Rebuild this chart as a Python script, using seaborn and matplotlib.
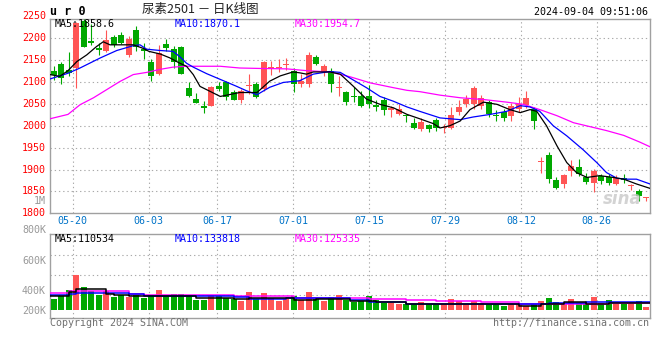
import numpy as np
import pandas as pd
import matplotlib
matplotlib.use("Agg")
import matplotlib.pyplot as plt
import seaborn as sns
from matplotlib.transforms import blended_transform_factory as blend

# ---------------- data ----------------
holidays = ["2024-06-10"]
trade_dates = [d for d in pd.bdate_range("2024-05-15", "2024-09-04")
               if d.strftime("%Y-%m-%d") not in holidays]
tick_labels = ["05-20", "06-03", "06-17", "07-01", "07-15", "07-29", "08-12", "08-26"]

open_p = [2125, 2142, 2127, 2133, 2240, 2194, 2177, 2170, 2204, 2207,
          2162, 2219, 2175, 2146, 2118, 2188, 2175, 2179, 2087, 2061,
          2046, 2046, 2091, 2099, 2078, 2060, 2090, 2095, 2084, 2130,
          2131, 2140, 2126, 2095, 2096, 2158, 2126, 2126, 2087, 2078,
          2067, 2069, 2067, 2048, 2058, 2035, 2027, 2024, 2006, 1992,
          2002, 2014, 1995, 1995, 2032, 2050, 2050, 2045, 2055, 2024,
          2031, 2022, 2039, 2048, 2039, 1918, 1933, 1876, 1866, 1897,
          1906, 1884, 1869, 1885, 1883, 1866, 1881, 1862, 1850, 1835]
high_p = [2137, 2145, 2169, 2238, 2243, 2232, 2189, 2219, 2207, 2215,
          2205, 2228, 2189, 2152, 2185, 2198, 2183, 2183, 2101, 2076,
          2056, 2090, 2099, 2103, 2082, 2084, 2118, 2099, 2147, 2148,
          2152, 2154, 2131, 2118, 2169, 2161, 2141, 2131, 2114, 2080,
          2088, 2080, 2093, 2058, 2065, 2046, 2050, 2025, 2017, 2017,
          2004, 2017, 2005, 2042, 2058, 2070, 2090, 2070, 2060, 2035,
          2039, 2052, 2065, 2080, 2042, 1929, 1939, 1882, 1890, 1922,
          1925, 1891, 1902, 1890, 1890, 1887, 1889, 1866, 1855, 1838]
low_p = [2105, 2095, 2114, 2086, 2180, 2184, 2162, 2169, 2180, 2186,
         2158, 2170, 2152, 2103, 2116, 2171, 2133, 2118, 2066, 2051,
         2030, 2045, 2080, 2058, 2058, 2052, 2073, 2064, 2080, 2116,
         2123, 2128, 2077, 2088, 2088, 2139, 2114, 2078, 2069, 2048,
         2055, 2042, 2041, 2033, 2025, 2020, 2025, 2008, 1993, 1987,
         1986, 1987, 1983, 1993, 2025, 2042, 2039, 2039, 2020, 2012,
         2010, 2012, 2031, 2040, 1992, 1892, 1870, 1856, 1858, 1886,
         1886, 1867, 1849, 1867, 1864, 1864, 1870, 1854, 1829, 1828]
close_p = [2116, 2110, 2121, 2234, 2181, 2189, 2173, 2196, 2185, 2189,
           2198, 2181, 2170, 2114, 2167, 2177, 2145, 2119, 2068, 2053,
           2040, 2089, 2084, 2065, 2060, 2080, 2091, 2065, 2146, 2134,
           2132, 2141, 2096, 2103, 2161, 2141, 2137, 2096, 2088, 2055,
           2066, 2046, 2050, 2043, 2035, 2041, 2039, 2023, 1995, 2008,
           1993, 1995, 1996, 2025, 2042, 2061, 2086, 2063, 2027, 2023,
           2018, 2045, 2050, 2064, 2012, 1919, 1878, 1858, 1888, 1908,
           1890, 1871, 1896, 1874, 1870, 1881, 1876, 1863, 1840, 1836]
volume_k = [166, 190, 253, 406, 283, 240, 206, 240, 183, 200,
            183, 206, 173, 200, 256, 190, 216, 216, 190, 156,
            156, 200, 190, 173, 166, 143, 233, 166, 223, 173,
            143, 160, 190, 150, 233, 166, 143, 183, 206, 156,
            133, 143, 196, 150, 126, 126, 116, 116, 110, 133,
            116, 116, 116, 160, 140, 116, 140, 126, 116, 110,
            93, 110, 116, 93, 116, 143, 173, 133, 116, 160,
            126, 110, 183, 126, 150, 116, 116, 116, 143, 83]

# moving-average lines (candle-index position, value)
ma5_pos = [-0.5, 0.8, 1.9, 3.1, 4.4, 5.7, 6.6, 7.5, 10.6, 11.9, 12.7, 14.2, 15.5, 16.8,
           17.7, 18.6, 19.5, 20.8, 22.2, 24.8, 27.1, 28.8, 30.2, 31.9, 32.8, 33.7, 34.6,
           36.8, 38.2, 39.9, 41.7, 43.5, 45.3, 47.1, 48.8, 50.6, 51.5, 52.8, 54.2, 55.5,
           57.3, 59.1, 60.8, 62.2, 63.5, 64.4, 65.7, 67.1, 68.4, 69.7, 71.1, 72.8, 74.6,
           76.0, 77.7, 79.5]
ma5_val = [2117, 2113, 2126, 2147, 2162, 2181, 2192, 2185, 2185, 2177, 2170, 2164, 2155, 2143,
           2136, 2117, 2090, 2079, 2067, 2076, 2076, 2102, 2114, 2123, 2121, 2118, 2123,
           2123, 2118, 2091, 2061, 2049, 2041, 2026, 2016, 2005, 1995, 2000, 2011, 2037,
           2054, 2049, 2037, 2030, 2037, 2033, 2000, 1954, 1916, 1893, 1882, 1886, 1882,
           1878, 1867, 1857]
ma10_pos = [-0.5, 1.9, 3.5, 6.2, 8.4, 10.6, 11.5, 12.4, 14.2, 15.9, 16.8, 17.7, 18.6, 20.4,
            22.2, 24.4, 25.7, 27.1, 28.8, 30.6, 32.8, 34.6, 36.8, 38.2, 39.9, 41.7, 43.5,
            45.3, 47.1, 48.8, 51.5, 54.2, 55.9, 58.2, 60.4, 62.2, 63.5, 64.8, 66.6, 68.4,
            70.6, 72.4, 73.7, 75.1, 76.4, 77.7, 79.5]
ma10_val = [2107, 2120, 2132, 2155, 2172, 2183, 2185, 2175, 2172, 2170, 2158, 2143, 2134, 2119,
            2106, 2090, 2080, 2071, 2088, 2099, 2103, 2118, 2124, 2122, 2105, 2087, 2067,
            2056, 2043, 2033, 2018, 2014, 2020, 2026, 2033, 2046, 2043, 2033, 2000, 1977,
            1945, 1916, 1893, 1880, 1878, 1878, 1867]
ma30_pos = [-0.5, 1.9, 3.5, 5.3, 7.1, 8.8, 10.6, 12.4, 14.2, 15.9, 17.7, 22.2, 24.8, 27.5,
            31.1, 33.7, 36.8, 39.5, 42.2, 45.3, 47.1, 48.8, 51.5, 54.2, 57.3, 60.4, 62.6,
            64.8, 67.1, 69.3, 71.5, 73.7, 76.0, 78.1, 79.5]
ma30_val = [2016, 2026, 2048, 2064, 2083, 2101, 2117, 2122, 2129, 2134, 2136, 2136, 2132, 2131,
            2130, 2126, 2123, 2112, 2098, 2087, 2081, 2078, 2070, 2064, 2060, 2054, 2049,
            2037, 2023, 2007, 1998, 1989, 1978, 1963, 1952]

vma5_pos = [-0.5, 2, 3, 7, 8, 10, 19, 24, 26, 32, 35, 39.5, 43, 47, 51, 62, 65, 68, 71, 74, 79.5]
vma5_val = [190, 233, 260, 216, 200, 190, 173, 160, 173, 150, 166, 140, 133, 110, 116, 93,
            110, 133, 110, 125, 125]
vma10_pos = [-0.5, 2, 3, 10, 12, 24, 26, 31, 39.5, 42, 47, 66, 71, 79.5]
vma10_val = [200, 210, 223, 216, 193, 183, 166, 173, 150, 133, 116, 120, 133, 133]
vma30_pos = [-0.5, 2, 10, 12, 24, 32, 39.5, 42, 47, 51, 57, 62, 74, 79.5]
vma30_val = [223, 240, 216, 200, 193, 173, 173, 160, 150, 140, 133, 116, 120, 120]

price_labels = [2250, 2200, 2150, 2100, 2050, 2000, 1950, 1900, 1850, 1800]
vol_labels = ["800K", "600K", "400K", "200K"]
ma_text = ["MA5:1858.6", "MA10:1870.1", "MA30:1954.7"]
vma_text = ["MA5:110534", "MA10:133818", "MA30:125335"]

# ---------------- style ----------------
sns.set_theme(style="white")
plt.rcParams["font.family"] = ["DejaVu Sans Mono", "Noto Sans CJK SC"]
RED, GREEN = "#ff5555", "#00a800"
GRID = "#aaaaaa"
SPINE = "#a0a0a0"
FS = 7.2

W, H = 660, 360
fig = plt.figure(figsize=(W / 100, H / 100), dpi=100)
fig.patch.set_facecolor("white")


def fx(px):
    return px / W


def fy(py):
    return 1 - py / H


ax = fig.add_axes([fx(50), fy(213.3), fx(600), (213.3 - 19) / H])
axv = fig.add_axes([fx(50), fy(317.7), fx(600), (317.7 - 234.3) / H])

n = len(close_p)
x = np.arange(n)
o = np.array(open_p, float)
c = np.array(close_p, float)
hi = np.array(high_p, float)
lo = np.array(low_p, float)
up = c >= o
colors = np.where(up, RED, GREEN)

# candles
ax.vlines(x, lo, hi, colors=colors, lw=0.8, zorder=3)
body_bot = np.minimum(o, c)
body_h = np.maximum(np.abs(c - o), 2.3)
ax.bar(x, body_h, bottom=body_bot, width=0.8, color=colors, lw=0, zorder=4)

# moving averages
sns.lineplot(x=ma30_pos, y=ma30_val, ax=ax, color="#ff00ff", lw=0.9, zorder=5)
sns.lineplot(x=ma10_pos, y=ma10_val, ax=ax, color="#0000ff", lw=0.9, zorder=6)
sns.lineplot(x=ma5_pos, y=ma5_val, ax=ax, color="black", lw=0.9, zorder=7)

# axis setup
xlim = (-0.5, n - 0.5)
date_strs = [d.strftime("%m-%d") for d in trade_dates]
tick_idx = [date_strs.index(t) for t in tick_labels]
tick_pos = [xlim[0] + i * n / (n - 1) for i in tick_idx]

ax.set_xlim(*xlim)
ax.set_ylim(1800, 2244)
ax.set_yticks(price_labels[1:-1])
ax.set_xticks(tick_pos)
ax.set_xticklabels(tick_labels)
ax.tick_params(axis="x", length=0, pad=2.2, labelsize=FS, labelcolor="#0073c8")
ax.tick_params(axis="y", length=0, labelleft=False)
ax.grid(True, color=GRID, lw=0.8, ls=(0, (1.2, 2.6)))
ax.set_xlabel("")
ax.set_ylabel("")

trans = blend(ax.transAxes, ax.transData)
for v in price_labels:
    ax.text(-4 / 600, v, str(v), transform=trans, ha="right", va="center",
            color="#ff0000", fontsize=FS, clip_on=False)
ax.text(-4 / 600, 1829, "1M", transform=trans, ha="right", va="center",
        color="#999999", fontsize=FS, clip_on=False)

# watermark
fig.text(fx(622), fy(199), "sina", color="#c8c8c8", fontsize=12, fontstyle="italic",
         fontweight="bold", family="DejaVu Sans", ha="center", va="center", alpha=0.8, zorder=1)

# volume panel
vol_floor = 50
vol = np.array(volume_k, float)
axv.bar(x, vol - vol_floor, bottom=vol_floor, width=0.8, color=colors, lw=0, zorder=3)
sns.lineplot(x=vma30_pos, y=vma30_val, ax=axv, color="#ff00ff", lw=1.1, drawstyle="steps-post", zorder=5)
sns.lineplot(x=vma10_pos, y=vma10_val, ax=axv, color="#0000ff", lw=1.1, drawstyle="steps-post", zorder=6)
sns.lineplot(x=vma5_pos, y=vma5_val, ax=axv, color="black", lw=1.1, drawstyle="steps-post", zorder=7)
axv.set_xlim(*xlim)
axv.set_ylim(-24, 810)
axv.set_yticks([200, 400, 600])
axv.set_xticks(tick_pos)
axv.tick_params(axis="both", length=0, labelleft=False, labelbottom=False)
axv.grid(True, color=GRID, lw=0.8, ls=(0, (1.2, 2.6)))
axv.set_xlabel("")
axv.set_ylabel("")

for a in (ax, axv):
    for s in a.spines.values():
        s.set_visible(True)
        s.set_color(SPINE)
        s.set_linewidth(1.0)

# texts
vol_label_y = [230.3, 261, 291, 311]
for lab, py in zip(vol_labels, vol_label_y):
    fig.text(fx(46), fy(py), lab, ha="right", va="center", color="#999999", fontsize=FS)

for t, px, col in zip(ma_text, [55, 175, 295], ["black", "#0000ff", "#ff00ff"]):
    fig.text(fx(px), fy(24), t, ha="left", va="center", color=col, fontsize=FS, zorder=10)
for t, px, col in zip(vma_text, [55, 175, 295], ["black", "#0000ff", "#ff00ff"]):
    fig.text(fx(px), fy(239), t, ha="left", va="center", color=col, fontsize=FS, zorder=10)

fig.text(fx(50), fy(11.5), "u r 0", ha="left", va="center", fontsize=8.5,
         fontweight="bold", color="black")
fig.text(fx(200), fy(9.5), "尿素2501 － 日K线图", ha="center", va="center", fontsize=9,
         family=["Noto Sans CJK SC", "DejaVu Sans"], color="#222222")
fig.text(fx(648), fy(12.3), "2024-09-04 09:51:06", ha="right", va="center",
         fontsize=FS, color="black")
fig.text(fx(50), fy(323.5), "Copyright 2024 SINA.COM", ha="left", va="center",
         fontsize=FS, color="#707070")
fig.text(fx(649), fy(323.5), "http://finance.sina.com.cn", ha="right", va="center",
         fontsize=FS, color="#707070")

fig.savefig("out.png", dpi=100, facecolor="white")
